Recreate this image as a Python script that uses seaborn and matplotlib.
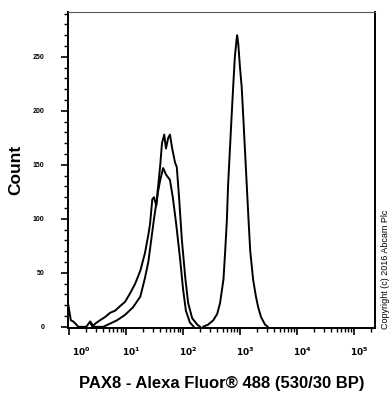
import numpy as np
import pandas as pd
import seaborn as sns
import matplotlib
matplotlib.use("Agg")
import matplotlib.pyplot as plt
import matplotlib.transforms as mtransforms
from matplotlib.ticker import LogLocator, MultipleLocator, FixedLocator

# curve positions are in decades (log10 of fluorescence)
control_a_dec = [0.37, 0.41, 0.46, 0.60, 0.72, 0.84, 0.98, 1.12, 1.25, 1.33, 1.39, 1.44, 1.49,
                 1.54, 1.60, 1.63, 1.67, 1.70, 1.74, 1.77, 1.81, 1.86, 1.89, 1.93, 1.98,
                 2.04, 2.09, 2.16, 2.25, 2.30]
control_a_cnt = [4, 0, 0, 0, 3, 6, 11, 18, 28, 45, 60, 80, 100,
                 118, 150, 170, 178, 165, 175, 178, 165, 152, 148, 120, 80,
                 45, 22, 8, 2, 0]

control_b_dec = [-0.02, 0.03, 0.07, 0.11, 0.16, 0.30, 0.37, 0.42, 0.46, 0.54, 0.63, 0.72,
                 0.81, 0.89, 0.98, 1.07, 1.16, 1.25, 1.33, 1.39, 1.42, 1.46, 1.49, 1.53,
                 1.56, 1.60, 1.65, 1.70, 1.77, 1.82, 1.88, 1.95, 2.00, 2.05, 2.12, 2.19]
control_b_cnt = [22, 6, 5, 3, 0, 0, 5, 1, 3, 6, 9, 13,
                 15, 19, 23, 31, 40, 52, 68, 85, 95, 118, 120, 112,
                 125, 136, 147, 141, 136, 120, 95, 62, 35, 15, 4, 0]

pax8_dec = [2.35, 2.44, 2.53, 2.60, 2.65, 2.71, 2.74, 2.77, 2.79, 2.82, 2.85, 2.88, 2.91,
            2.94, 2.95, 2.97, 3.00, 3.03, 3.06, 3.09, 3.12, 3.15, 3.18, 3.23, 3.28,
            3.32, 3.37, 3.44, 3.49]
pax8_cnt = [0, 2, 6, 12, 22, 44, 70, 99, 130, 161, 192, 222, 250,
            266, 270, 262, 240, 222, 192, 161, 130, 99, 70, 44, 28,
            18, 9, 2, 0]

y_ticks = [0, 50, 100, 150, 200, 250]
x_decades = [0, 1, 2, 3, 4, 5]

frames = []
for name, dec, cnt in [("control A", control_a_dec, control_a_cnt),
                       ("control B", control_b_dec, control_b_cnt),
                       ("PAX8", pax8_dec, pax8_cnt)]:
    frames.append(pd.DataFrame({"fl": np.power(10.0, dec), "count": cnt, "sample": name}))
df = pd.concat(frames, ignore_index=True)

sns.set_style("ticks")
plt.rcParams['font.family'] = ['Liberation Sans', 'DejaVu Sans']
plt.rcParams['text.color'] = 'black'
plt.rcParams['axes.labelcolor'] = 'black'
plt.rcParams['xtick.color'] = 'black'
plt.rcParams['ytick.color'] = 'black'

fig = plt.figure(figsize=(3.92, 3.96), dpi=100)
ax = fig.add_axes([0.1735, 0.172, 0.783, 0.798])

for name in ["control A", "control B", "PAX8"]:
    sns.lineplot(data=df[df["sample"] == name], x="fl", y="count", ax=ax,
                 color="black", lw=1.4, sort=False, estimator=None)

ax.set_xscale("log")
ax.set_xlim(10 ** -0.02, 10 ** 5.37)
ax.set_ylim(-1, 291.6)

ax.xaxis.set_major_locator(FixedLocator([10.0 ** d for d in x_decades]))
ax.xaxis.set_minor_locator(LogLocator(base=10, subs=np.arange(2, 10), numticks=20))
ax.set_xticklabels([f"$\\mathbf{{10^{d}}}$" for d in x_decades], fontsize=6.5)
ax.yaxis.set_major_locator(FixedLocator(y_ticks))
ax.yaxis.set_minor_locator(MultipleLocator(10))
ax.set_yticklabels([str(v) for v in y_ticks], fontsize=5, fontweight="bold")

ax.tick_params(axis="both", which="major", direction="out", length=5, width=1.2,
               color="black", pad=8)
ax.tick_params(axis="both", which="minor", direction="out", length=3, width=1,
               color="black")
ax.tick_params(axis="y", which="major", pad=12)

# decade labels sit a little right of their ticks in the reference
for i, lab in enumerate(ax.get_xticklabels()):
    shift = 12 if i == 0 else 5
    lab.set_transform(lab.get_transform() +
                      mtransforms.ScaledTranslation(shift / 100, 0, fig.dpi_scale_trans))

for side in ["left", "bottom", "right"]:
    ax.spines[side].set_color("black")
    ax.spines[side].set_linewidth(1.4)
ax.spines["top"].set_color("#555555")
ax.spines["top"].set_linewidth(0.8)

ax.set_xlabel("PAX8 - Alexa Fluor\u00ae 488 (530/30 BP)", fontsize=12,
              fontweight="bold", labelpad=13)
ax.set_ylabel("Count", fontsize=12.5, fontweight="bold")
ax.yaxis.set_label_coords(-0.145, 0.5)

fig.text(0.983, 0.17, "Copyright (c) 2016 Abcam Plc", rotation=90, fontsize=6.5,
         ha="center", va="bottom")

fig.savefig("out.png", dpi=100)
